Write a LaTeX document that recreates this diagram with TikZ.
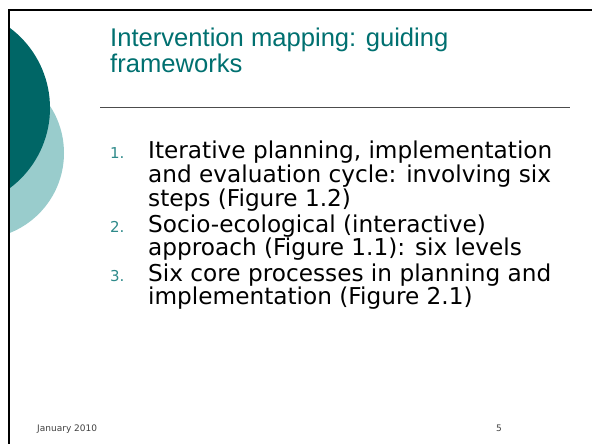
\documentclass[tikz,border=0pt]{standalone}
\usepackage{fontspec}
\setmainfont{DejaVu Sans}
\newfontfamily\titlefont{Liberation Sans}
\usetikzlibrary{positioning}
\definecolor{darkteal}{RGB}{0,102,102}
\definecolor{lightteal}{RGB}{153,204,204}
\definecolor{titleteal}{RGB}{0,112,112}
\definecolor{numteal}{RGB}{46,138,138}

\begin{document}
\begin{tikzpicture}[x=1pt,y=-1pt,
    line/.style={anchor=base west, inner sep=0pt, font=\fontsize{23.2}{24}\selectfont},
    num/.style={anchor=base west, inner sep=0pt, text=numteal, font=\fontsize{15}{16}\selectfont},
    head/.style={anchor=base west, inner sep=0pt, text=titleteal, font=\titlefont\fontsize{25.6}{30}\selectfont},
    foot/.style={anchor=base west, inner sep=0pt, text=black!75, font=\fontsize{9}{11}\selectfont}]
    \useasboundingbox (0,0) rectangle (592,444);
    \coordinate (O) at (9,10);
    \coordinate (TR) at (592,10);
    \coordinate (BL) at (9,444);
    \coordinate (RL) at (100,107);
    \coordinate (RR) at (570,107);

    \begin{scope}
        \clip (O) rectangle (592,444);
        \fill [lightteal] (-22,153) circle (86pt);
        \fill [darkteal] (-50,108) circle (100pt);
    \end{scope}
    \draw [line width=2.5pt] (BL) -- (O) -- (TR);

    \node [head] (t1) at (110,47) {Intervention mapping: guiding};
    \node [head] (t2) at (110,73) {frameworks};
    \draw [black!70, line width=1pt] (RL) -- (RR);

    \node [num] (n1) at (110,158) {1.};
    \node [line] (a1) at (148,158) {Iterative planning, implementation};
    \node [line] (a2) at (148,182) {and evaluation cycle: involving six};
    \node [line] (a3) at (148,206) {steps (Figure 1.2)};
    \node [num] (n2) at (110,232) {2.};
    \node [line] (b1) at (148,232) {Socio-ecological (interactive)};
    \node [line] (b2) at (148,255) {approach (Figure 1.1): six levels};
    \node [num] (n3) at (110,281) {3.};
    \node [line] (c1) at (148,281) {Six core processes in planning and};
    \node [line] (c2) at (148,304) {implementation (Figure 2.1)};

    \node [foot] (date) at (37,431) {January 2010};
    \node [foot] (page) at (496,431) {5};
\end{tikzpicture}
\end{document}
